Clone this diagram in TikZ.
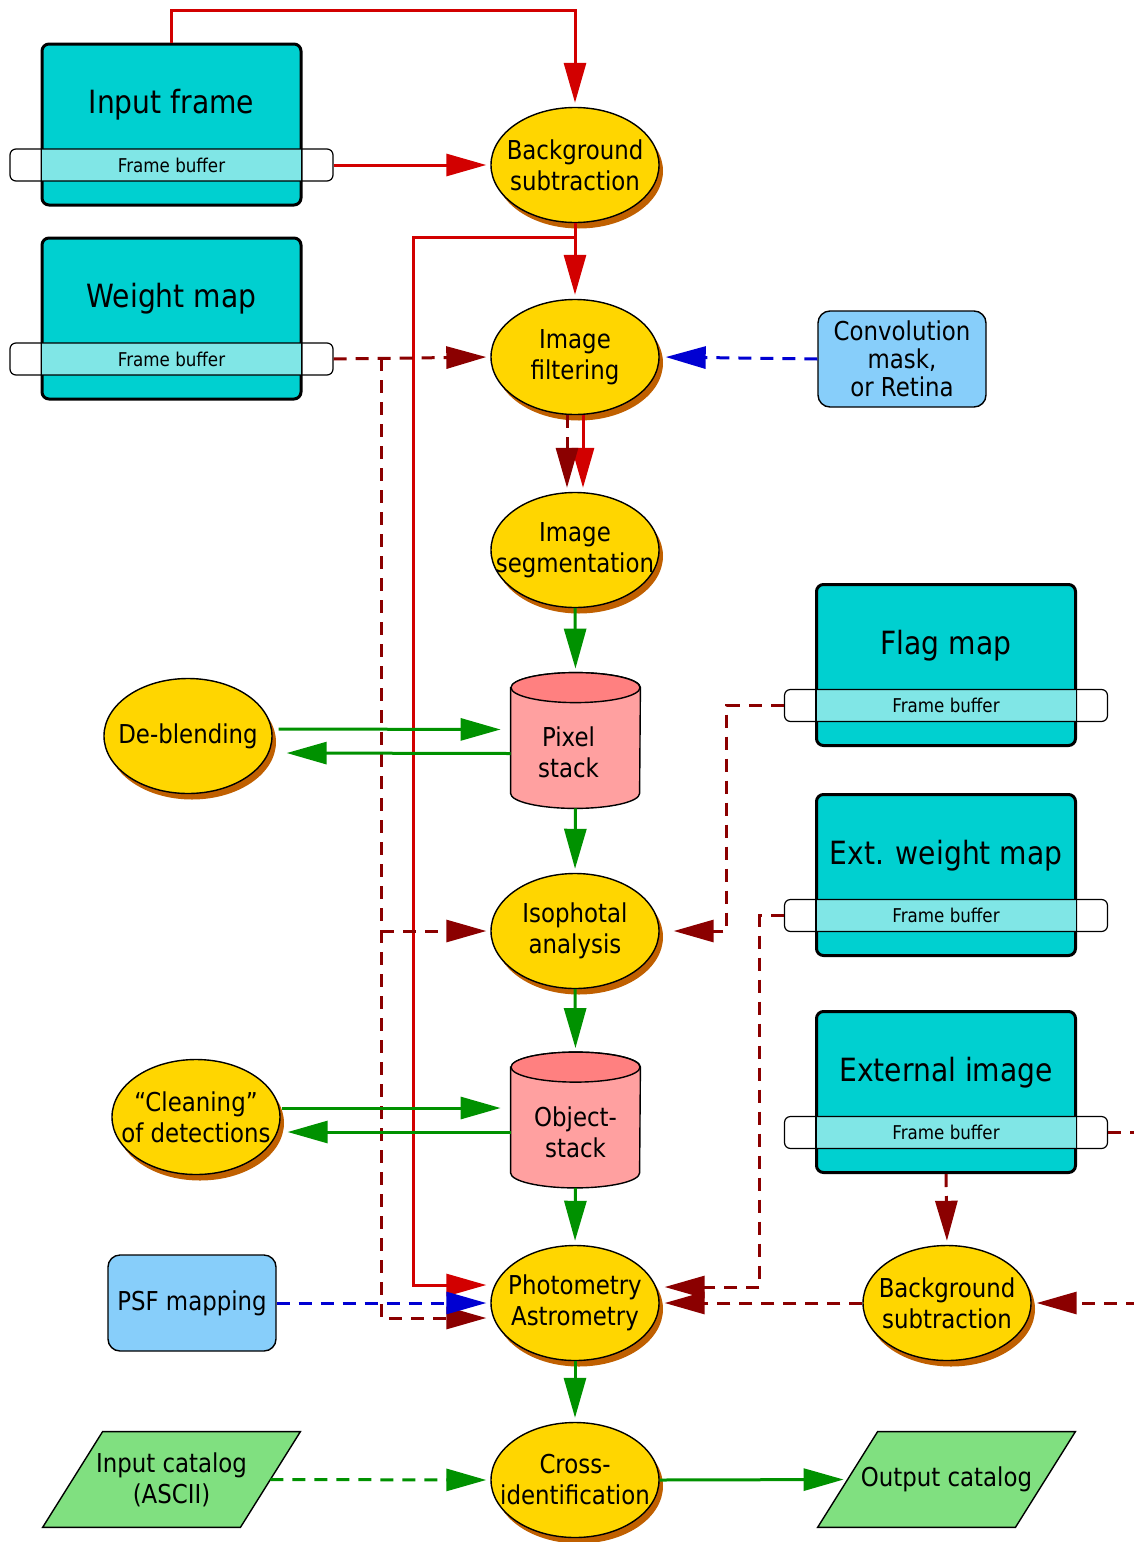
\documentclass[tikz,border=0pt]{standalone}
\usepackage{fontspec}
\setmainfont[FakeStretch=0.88]{DejaVu Sans}
\usetikzlibrary{shapes.geometric, arrows.meta, positioning, calc, shadows}

\definecolor{mapcyan}{RGB}{0,208,208}
\definecolor{bandcyan}{RGB}{128,230,230}
\definecolor{procgold}{RGB}{255,214,0}
\definecolor{shadowbrown}{RGB}{192,96,0}
\definecolor{stacktop}{RGB}{255,128,128}
\definecolor{stackbody}{RGB}{255,160,160}
\definecolor{auxblue}{RGB}{135,206,250}
\definecolor{catgreen}{RGB}{128,224,128}
\definecolor{flowred}{RGB}{210,0,0}
\definecolor{flowdark}{RGB}{139,0,0}
\definecolor{flowgreen}{RGB}{0,145,0}
\definecolor{flowblue}{RGB}{0,0,210}

\tikzstyle{map_box} = [rectangle, rounded corners=3.5pt, draw=black, line width=1.5pt, fill=mapcyan, minimum width=129.5pt, minimum height=80.5pt]
\tikzstyle{buffer_band} = [rectangle, rounded corners=3pt, draw=black, line width=0.6pt, minimum width=161.5pt, minimum height=16pt, inner sep=0pt, font=\fontsize{9.5}{11}\selectfont]
\tikzstyle{map_title} = [font=\fontsize{16}{19}\selectfont]
\tikzstyle{proc_node} = [ellipse, draw=black, line width=0.7pt, fill=procgold, minimum width=84pt, minimum height=57.5pt, inner xsep=-12pt, inner ysep=0pt, align=center, font=\fontsize{13}{15.5}\selectfont, drop shadow={shadow xshift=2pt, shadow yshift=-3pt, fill=shadowbrown, opacity=1}]
\tikzstyle{stack_box} = [rectangle, minimum width=64.5pt, minimum height=67.5pt, inner sep=0pt]
\tikzstyle{stack_text} = [align=center, font=\fontsize{13}{15.5}\selectfont]
\tikzstyle{aux_box} = [rectangle, rounded corners=6pt, draw=black, line width=0.7pt, fill=auxblue, minimum width=84pt, minimum height=48pt, inner xsep=1pt, align=center, font=\fontsize{13}{14}\selectfont]
\tikzstyle{cat_box} = [rectangle, minimum width=98.5pt, minimum height=47.5pt, inner sep=0pt]
\tikzstyle{cat_text} = [align=center, font=\fontsize{13}{15.5}\selectfont]
\tikzstyle{thin_line} = [draw=black, line width=0.7pt]

\tikzstyle{flow_base} = [line width=1.5pt, -{Triangle[length=20pt, width=11pt]}, shorten >=2pt]
\tikzstyle{red_flow} = [flow_base, flowred]
\tikzstyle{dark_flow} = [flow_base, flowdark, dash pattern=on 6.5pt off 4.5pt]
\tikzstyle{green_flow} = [flow_base, flowgreen]
\tikzstyle{green_dash} = [flow_base, flowgreen, dash pattern=on 6.5pt off 4.5pt]
\tikzstyle{blue_flow} = [flow_base, flowblue, dash pattern=on 6.5pt off 4.5pt]

% box with a frame buffer band across it
\newcommand{\datamap}[3]{%
  \node (#1) [map_box] at (#2) {};
  \fill[bandcyan] ([xshift=0.75pt,yshift=-12.25pt]#1.west) rectangle ([xshift=-0.75pt,yshift=-28.25pt]#1.east);
  \node (#1-fb) [buffer_band] at ([yshift=-20.25pt]#1.center) {Frame buffer};
  \node (#1-t) [map_title] at ([yshift=9.75pt]#1.center) {#3};
}
% stack drawn as a cylinder
\newcommand{\stacknode}[4]{%
  \node (#1) [stack_box] at (#2) {};
  \filldraw[thin_line, fill=stackbody] ([yshift=-7.5pt]#1.north west) -- ([yshift=7.5pt]#1.south west)
    arc[start angle=180, end angle=360, x radius=32.25pt, y radius=7.5pt]
    -- ([yshift=-7.5pt]#1.north east)
    arc[start angle=0, end angle=180, x radius=32.25pt, y radius=7.5pt] -- cycle;
  \filldraw[thin_line, fill=stacktop] ([yshift=-7.5pt]#1.north) ellipse [x radius=32.25pt, y radius=7.5pt];
  \node (#1-t) [stack_text] at ([xshift=#4,yshift=-6pt]#1.center) {#3};
}
% catalog drawn as a parallelogram
\newcommand{\catnode}[3]{%
  \node (#1) [cat_box] at (#2) {};
  \filldraw[thin_line, fill=catgreen] ([xshift=15pt]#1.north west) -- ([xshift=15pt]#1.north east)
    -- ([xshift=-15pt]#1.south east) -- ([xshift=-15pt]#1.south west) -- cycle;
  \node (#1-t) [cat_text] at (#1.center) {#3};
}

\begin{document}
\begin{tikzpicture}[x=0.5pt, y=-0.5pt]
\useasboundingbox (0,0) rectangle (1134,1542);

\datamap{inframe}{171.5,124.5}{Input frame}
\datamap{wmap}{171.5,318.5}{Weight map}
\datamap{flagmap}{946,665}{Flag map}
\datamap{extwmap}{946,875}{Ext. weight map}
\datamap{extimg}{946,1092}{External image}

\node (bgsub) [proc_node] at (575,165) {Background\\subtraction};
\node (imgfilt) [proc_node] at (575,357) {Image\\filtering};
\node (imgseg) [proc_node] at (575,550) {Image\\segmentation};
\stacknode{pixstack}{575.5,740.5}{Pixel\\stack}{-3.5pt}
\node (isophot) [proc_node] at (575,931) {Isophotal\\analysis};
\stacknode{objstack}{575.5,1120}{Object-\\stack}{0pt}
\node (photom) [proc_node] at (575,1303) {Photometry\\Astrometry};
\node (crossid) [proc_node] at (575,1480) {Cross-\\identification};
\node (bgsub2) [proc_node] at (947,1303) {Background\\subtraction};
\node (deblend) [proc_node] at (188,736) {De-blending};
\node (clean) [proc_node] at (196,1117) {“Cleaning”\\of detections};

\node (conv) [aux_box] at (902,359) {Convolution\\mask,\\or Retina};
\node (psf) [aux_box] at (192,1303) {PSF mapping};
\catnode{incat}{171.5,1479.5}{Input catalog\\(ASCII)}
\catnode{outcat}{946.5,1479.5}{Output catalog}

% image path
\draw[red_flow] (inframe.north) -- ++(0,-32) -| (bgsub.north);
\draw[red_flow] (inframe-fb.east) -- (bgsub.west);
\draw[red_flow] (bgsub.south) -- (imgfilt.north);
\coordinate (redsplit) at (575,237);
\coordinate (redrail) at (413,237);
\draw[red_flow] (redsplit) -- (redrail) |- ([yshift=9pt]photom.west);
\draw[red_flow] ([xshift=4pt]imgfilt.south) -- ([xshift=4pt]imgseg.north);

% weights and flags
\draw[dark_flow] ([xshift=-4pt]imgfilt.south) -- ([xshift=-4pt]imgseg.north);
\draw[dark_flow] (wmap-fb.east) -- (imgfilt.west);
\coordinate (darkrail) at (381,358);
\draw[dark_flow] (darkrail) |- ([yshift=-7.5pt]photom.west);
\draw[dark_flow] (darkrail |- isophot.west) -- (isophot.west);
\draw[dark_flow] (flagmap-fb.west) -- ++(-57,0) |- ([xshift=5pt]isophot.east);
\draw[dark_flow] (extwmap-fb.west) -- ++(-24,0) |- ([xshift=0.5pt,yshift=8pt]photom.east);
\draw[dark_flow] (bgsub2.west) -- ([xshift=0.5pt]photom.east);
\draw[dark_flow] (extimg.south) -- (bgsub2.north);
\draw[dark_flow] (extimg-fb.east) -- ++(40,0) |- ([xshift=0.5pt]bgsub2.east);

\draw[blue_flow] (conv.west) -- ([xshift=1pt]imgfilt.east);
\draw[blue_flow] (psf.east) -- (photom.west);

% object path
\draw[green_flow] (imgseg.south) -- (pixstack.north);
\draw[green_flow] (pixstack.south) -- (isophot.north);
\draw[green_flow] (isophot.south) -- (objstack.north);
\draw[green_flow] (objstack.south) -- (photom.north);
\draw[green_flow] (photom.south) -- (crossid.north);
\draw[green_flow] ($(deblend.east)+(6,-7)$) -- ($(pixstack.west)+(-6,-11)$);
\draw[green_flow] ($(pixstack.west)+(0,13)$) -- ($(deblend.east)+(10,17)$);
\draw[green_flow] ($(clean.east)+(1,-9)$) -- ($(objstack.west)+(-6,-12)$);
\draw[green_flow] ($(objstack.west)+(0,12)$) -- ($(clean.east)+(3,15)$);
\draw[green_dash] (incat.east) -- (crossid.west);
\draw[green_flow] (crossid.east) -- (outcat.west);
\end{tikzpicture}
\end{document}
